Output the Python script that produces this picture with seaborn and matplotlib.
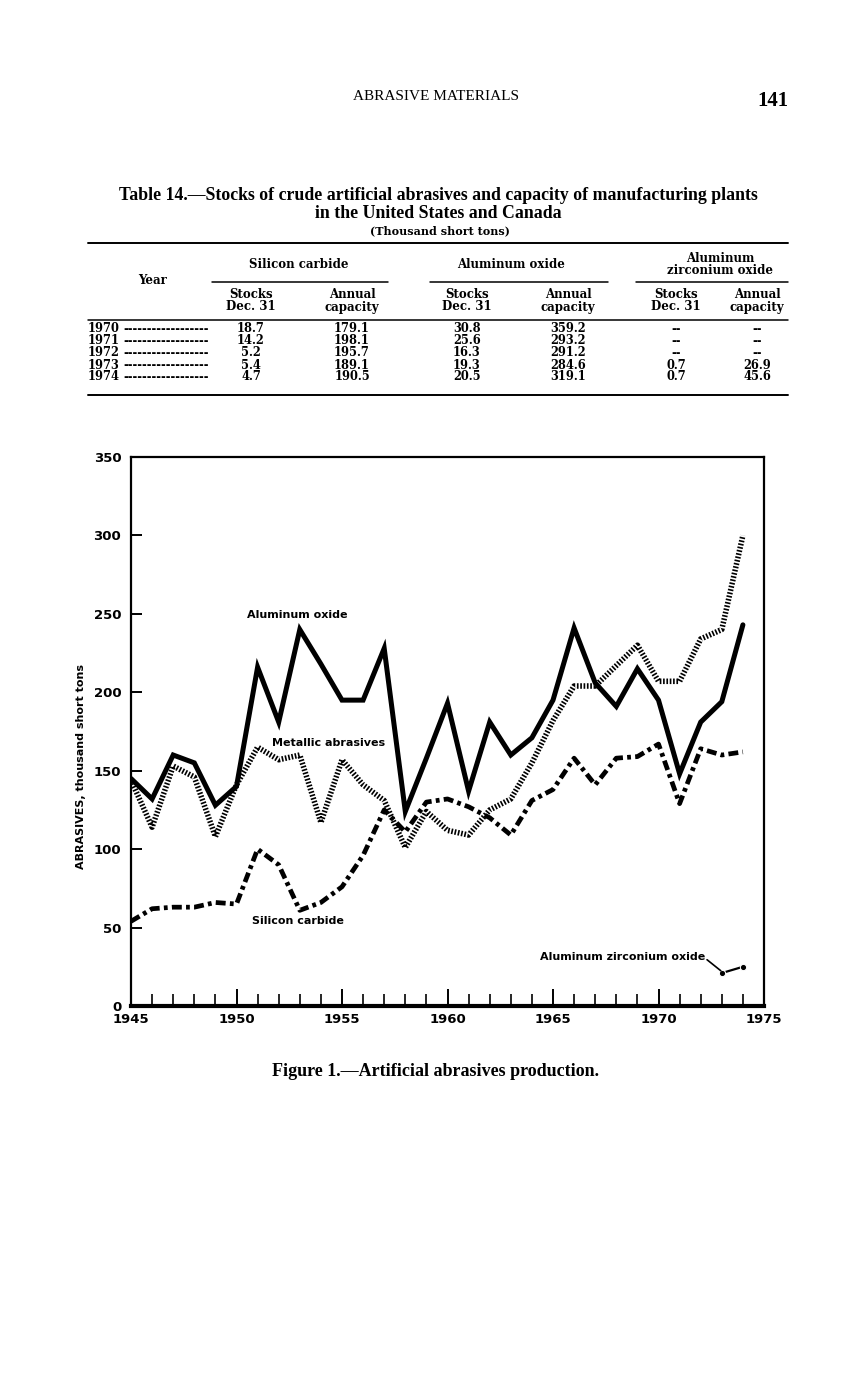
import matplotlib
matplotlib.use("Agg")
import matplotlib.pyplot as plt
import seaborn as sns
import pandas as pd
from matplotlib.lines import Line2D
from matplotlib.ticker import MultipleLocator

# ---- chart data (thousand short tons) ----
years = list(range(1945, 1975))
aluminum_oxide = [145, 132, 160, 155, 128, 140, 216, 181, 240, 218, 195, 195, 228, 124, 158, 193,
                  137, 181, 160, 171, 195, 241, 206, 191, 215, 195, 148, 181, 194, 243]
metallic = [144, 114, 153, 146, 108, 141, 165, 157, 160, 117, 157, 141, 131, 101, 124, 112,
            109, 125, 132, 155, 182, 204, 204, 217, 230, 207, 207, 234, 240, 300]
silicon_carbide = [54, 62, 63, 63, 66, 65, 100, 90, 61, 66, 76, 96, 125, 111, 130, 132,
                   127, 120, 109, 131, 138, 158, 141, 158, 159, 167, 129, 164, 160, 162]
azo_years = [1973, 1974]
azo = [21, 25]

# ---- table data ----
table_years = ["1970", "1971", "1972", "1973", "1974"]
sic_stocks = ["18.7", "14.2", "5.2", "5.4", "4.7"]
sic_capacity = ["179.1", "198.1", "195.7", "189.1", "190.5"]
alo_stocks = ["30.8", "25.6", "16.3", "19.3", "20.5"]
alo_capacity = ["359.2", "293.2", "291.2", "284.6", "319.1"]
azo_stocks = ["--", "--", "--", "0.7", "0.7"]
azo_capacity = ["--", "--", "--", "26.9", "45.6"]

sns.set_theme(style="white")
plt.rcParams["text.color"] = "black"
plt.rcParams["axes.labelcolor"] = "black"
W, H = 861, 1380
fig = plt.figure(figsize=(W / 100, H / 100), dpi=100)
SERIF = ["Liberation Serif", "DejaVu Serif"]
WIDE_SERIF = ["DejaVu Serif"]
SANS = ["DejaVu Sans"]


def fx(px):
    return px / W


def fy(py):
    return 1 - py / H


def ftext(px, py, s, **kw):
    kw.setdefault("family", SERIF)
    kw.setdefault("ha", "center")
    kw.setdefault("va", "center")
    kw.setdefault("color", "black")
    fig.text(fx(px), fy(py), s, **kw)


def hline(x0, x1, py, lw=1.0):
    fig.add_artist(Line2D([fx(x0), fx(x1)], [fy(py), fy(py)], transform=fig.transFigure,
                          color="black", lw=lw))


# page header
ftext(436, 97, "ABRASIVE MATERIALS", fontsize=11)
ftext(773, 101, "141", fontsize=15, weight="bold")

# table title
ftext(438, 196, "Table 14.\u2014Stocks of crude artificial abrasives and capacity of manufacturing plants",
      fontsize=12.8, weight="bold")
ftext(438, 214, "in the United States and Canada", fontsize=12.8, weight="bold")
ftext(440, 231, "(Thousand short tons)", fontsize=8, weight="bold", family=WIDE_SERIF)

hline(88, 788, 243, 1.4)
ftext(153, 280, "Year", fontsize=8.5, weight="bold", family=WIDE_SERIF)
ftext(299, 265, "Silicon carbide", fontsize=8.5, weight="bold", family=WIDE_SERIF)
ftext(511, 265, "Aluminum oxide", fontsize=8.5, weight="bold", family=WIDE_SERIF)
ftext(720, 258, "Aluminum", fontsize=8.5, weight="bold", family=WIDE_SERIF)
ftext(720, 271, "zirconium oxide", fontsize=8.5, weight="bold", family=WIDE_SERIF)
hline(212, 388, 282, 1.1)
hline(430, 608, 282, 1.1)
hline(636, 788, 282, 1.1)

col_x = [251, 352, 467, 568, 676, 757]
for cx, sub in zip(col_x, ["Stocks", "Annual"] * 3):
    ftext(cx, 294, sub, fontsize=8.5, weight="bold", family=WIDE_SERIF)
for cx, sub in zip(col_x, ["Dec. 31", "capacity"] * 3):
    ftext(cx, 307, sub, fontsize=8.5, weight="bold", family=WIDE_SERIF)
hline(88, 788, 320, 1.1)

columns = [sic_stocks, sic_capacity, alo_stocks, alo_capacity, azo_stocks, azo_capacity]
for i, yr in enumerate(table_years):
    py = 329 + i * 12
    ftext(88, py, yr, fontsize=8.3, weight="bold", ha="left", family=WIDE_SERIF)
    ftext(123, py, "-" * 18, fontsize=8.3, weight="bold", ha="left", family=WIDE_SERIF)
    for cx, col in zip(col_x, columns):
        ftext(cx, py, col[i], fontsize=8.3, weight="bold", family=WIDE_SERIF)
hline(88, 788, 395, 1.4)

# ---- chart ----
ax = fig.add_axes([fx(131), fy(1006), fx(764) - fx(131), (1006 - 457) / H])
df = pd.DataFrame({"year": years, "alo": aluminum_oxide, "met": metallic, "sic": silicon_carbide})
df_azo = pd.DataFrame({"year": azo_years, "azo": azo})

sns.lineplot(data=df, x="year", y="sic", ax=ax, color="black", lw=3.4,
             linestyle=(0, (2.1, 0.9, 0.8, 0.9)))
sns.lineplot(data=df, x="year", y="met", ax=ax, color="black", lw=4.0,
             linestyle=(0, (0.3, 0.3)))
sns.lineplot(data=df, x="year", y="alo", ax=ax, color="black", lw=3.6,
             solid_joinstyle="miter")
sns.lineplot(data=df_azo, x="year", y="azo", ax=ax, color="black", lw=1.6,
             marker="o", markersize=4.5)

ax.set_xlim(1945, 1975)
ax.set_ylim(0, 350)
ax.xaxis.set_major_locator(MultipleLocator(5))
ax.xaxis.set_minor_locator(MultipleLocator(1))
ax.yaxis.set_major_locator(MultipleLocator(50))
ax.tick_params(axis="x", which="both", bottom=True, top=False)
ax.tick_params(axis="y", which="both", left=True, right=False)
ax.tick_params(axis="x", which="major", direction="in", length=12, width=1.4, pad=5)
ax.tick_params(axis="x", which="minor", direction="in", length=9, width=1.4)
ax.tick_params(axis="y", which="major", direction="in", length=8, width=1.4, pad=7)
ax.tick_params(axis="both", labelsize=9.5, colors="black")
for lab in ax.get_xticklabels() + ax.get_yticklabels():
    lab.set_fontweight("bold")
    lab.set_family(SANS)
for side in ["left", "top", "right"]:
    ax.spines[side].set_linewidth(1.6)
    ax.spines[side].set_color("black")
ax.spines["bottom"].set_linewidth(3)
ax.spines["bottom"].set_color("black")
ax.set_xlabel("")
ax.set_ylabel("ABRASIVES, thousand short tons", fontsize=8, fontweight="bold", family=SANS,
              color="black")
ax.yaxis.set_label_coords(-0.071, 0.437)

lab_kw = dict(fontsize=8, fontweight="bold", family=SANS, va="center", color="black")
ax.text(1952.87, 249, "Aluminum oxide", ha="center", **lab_kw)
ax.text(1954.34, 167.5, "Metallic abrasives", ha="center", **lab_kw)
ax.text(1952.9, 54, "Silicon carbide", ha="center", **lab_kw)
ax.text(1972.2, 31.2, "Aluminum zirconium oxide", ha="right", **lab_kw)
ax.plot([1972.3, 1972.95], [29.5, 22.5], color="black", lw=1.2)

ftext(436, 1071, "Figure 1.\u2014Artificial abrasives production.", fontsize=13, weight="bold")

fig.savefig("out.png", dpi=100, facecolor="white")
